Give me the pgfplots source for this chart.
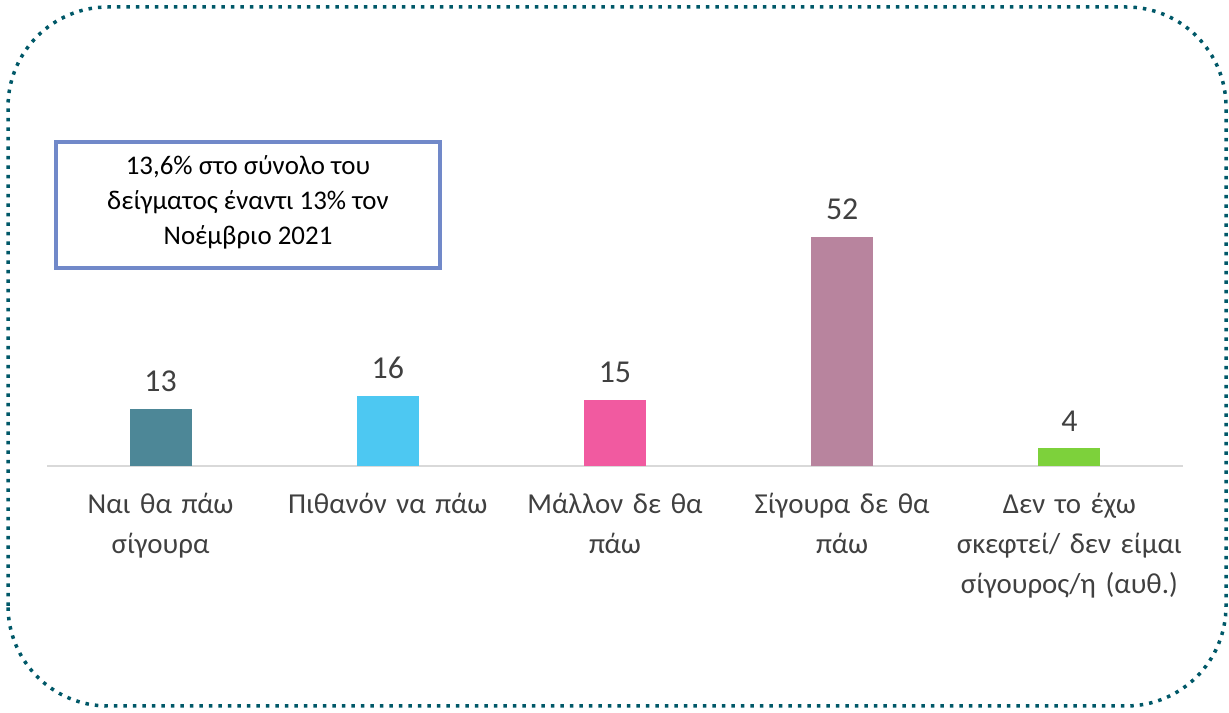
\documentclass[border=0pt]{standalone}
\usepackage{fontspec}
\setmainfont{Carlito}
\usepackage{pgfplots}
\pgfplotsset{compat=1.18}
\definecolor{cA}{HTML}{4D8797}
\definecolor{cB}{HTML}{4DC8F2}
\definecolor{cC}{HTML}{F15AA0}
\definecolor{cD}{HTML}{B8849E}
\definecolor{cE}{HTML}{7DD13B}
\definecolor{bordercol}{HTML}{005868}
\definecolor{boxcol}{HTML}{7189C9}
\definecolor{labelgray}{HTML}{404040}
\definecolor{linegray}{HTML}{D9D9D9}
\begin{document}
\begin{tikzpicture}
\useasboundingbox (0,0) rectangle (1229bp,713bp);
% dotted rounded border
\draw[bordercol,line width=3.5bp,dash pattern=on 3.5bp off 6bp,rounded corners=100bp] (8bp,7bp) rectangle (1226bp,706bp);
\begin{axis}[
  at={(47bp,247bp)}, anchor=south west,
  scale only axis, width=1136bp, height=264bp,
  xmin=-0.5, xmax=4.5, ymin=0, ymax=60,
  ybar, bar width=62bp,
  hide y axis,
  axis x line*=bottom,
  x axis line style={draw=linegray,line width=1.5bp,-},
  major tick length=0pt,
  xtick={0,1,2,3,4},
  xticklabels={{Ναι θα πάω\\σίγουρα},{Πιθανόν να πάω},{Μάλλον δε θα\\πάω},{Σίγουρα δε θα\\πάω},{Δεν το έχω\\σκεφτεί/ δεν είμαι\\σίγουρος/η (αυθ.)}},
  xticklabel style={text width=230bp,align=center,anchor=north,inner sep=0pt,yshift=-27bp,font=\fontsize{29}{40}\selectfont,text=labelgray},
  nodes near coords,
  every node near coord/.append style={font=\fontsize{32}{32}\selectfont,text=labelgray,inner sep=0pt,yshift=17bp},
  /pgf/number format/assume math mode=true,
  clip=false,
]
\addplot[fill=cA,draw=none,bar shift=0pt] coordinates {(0,13)};
\addplot[fill=cB,draw=none,bar shift=0pt] coordinates {(1,16)};
\addplot[fill=cC,draw=none,bar shift=0pt] coordinates {(2,15)};
\addplot[fill=cD,draw=none,bar shift=0pt] coordinates {(3,52)};
\addplot[fill=cE,draw=none,bar shift=0pt] coordinates {(4,4)};
\end{axis}
% text box
\draw[boxcol,line width=4bp,fill=white] (56bp,571bp) rectangle (440bp,445bp);
\node[align=center,font=\fontsize{27}{35}\selectfont,text=black] at (248bp,511bp) {13,6\% στο σύνολο του\\δείγματος έναντι 13\% τον\\Νοέμβριο 2021};
\end{tikzpicture}
\end{document}
